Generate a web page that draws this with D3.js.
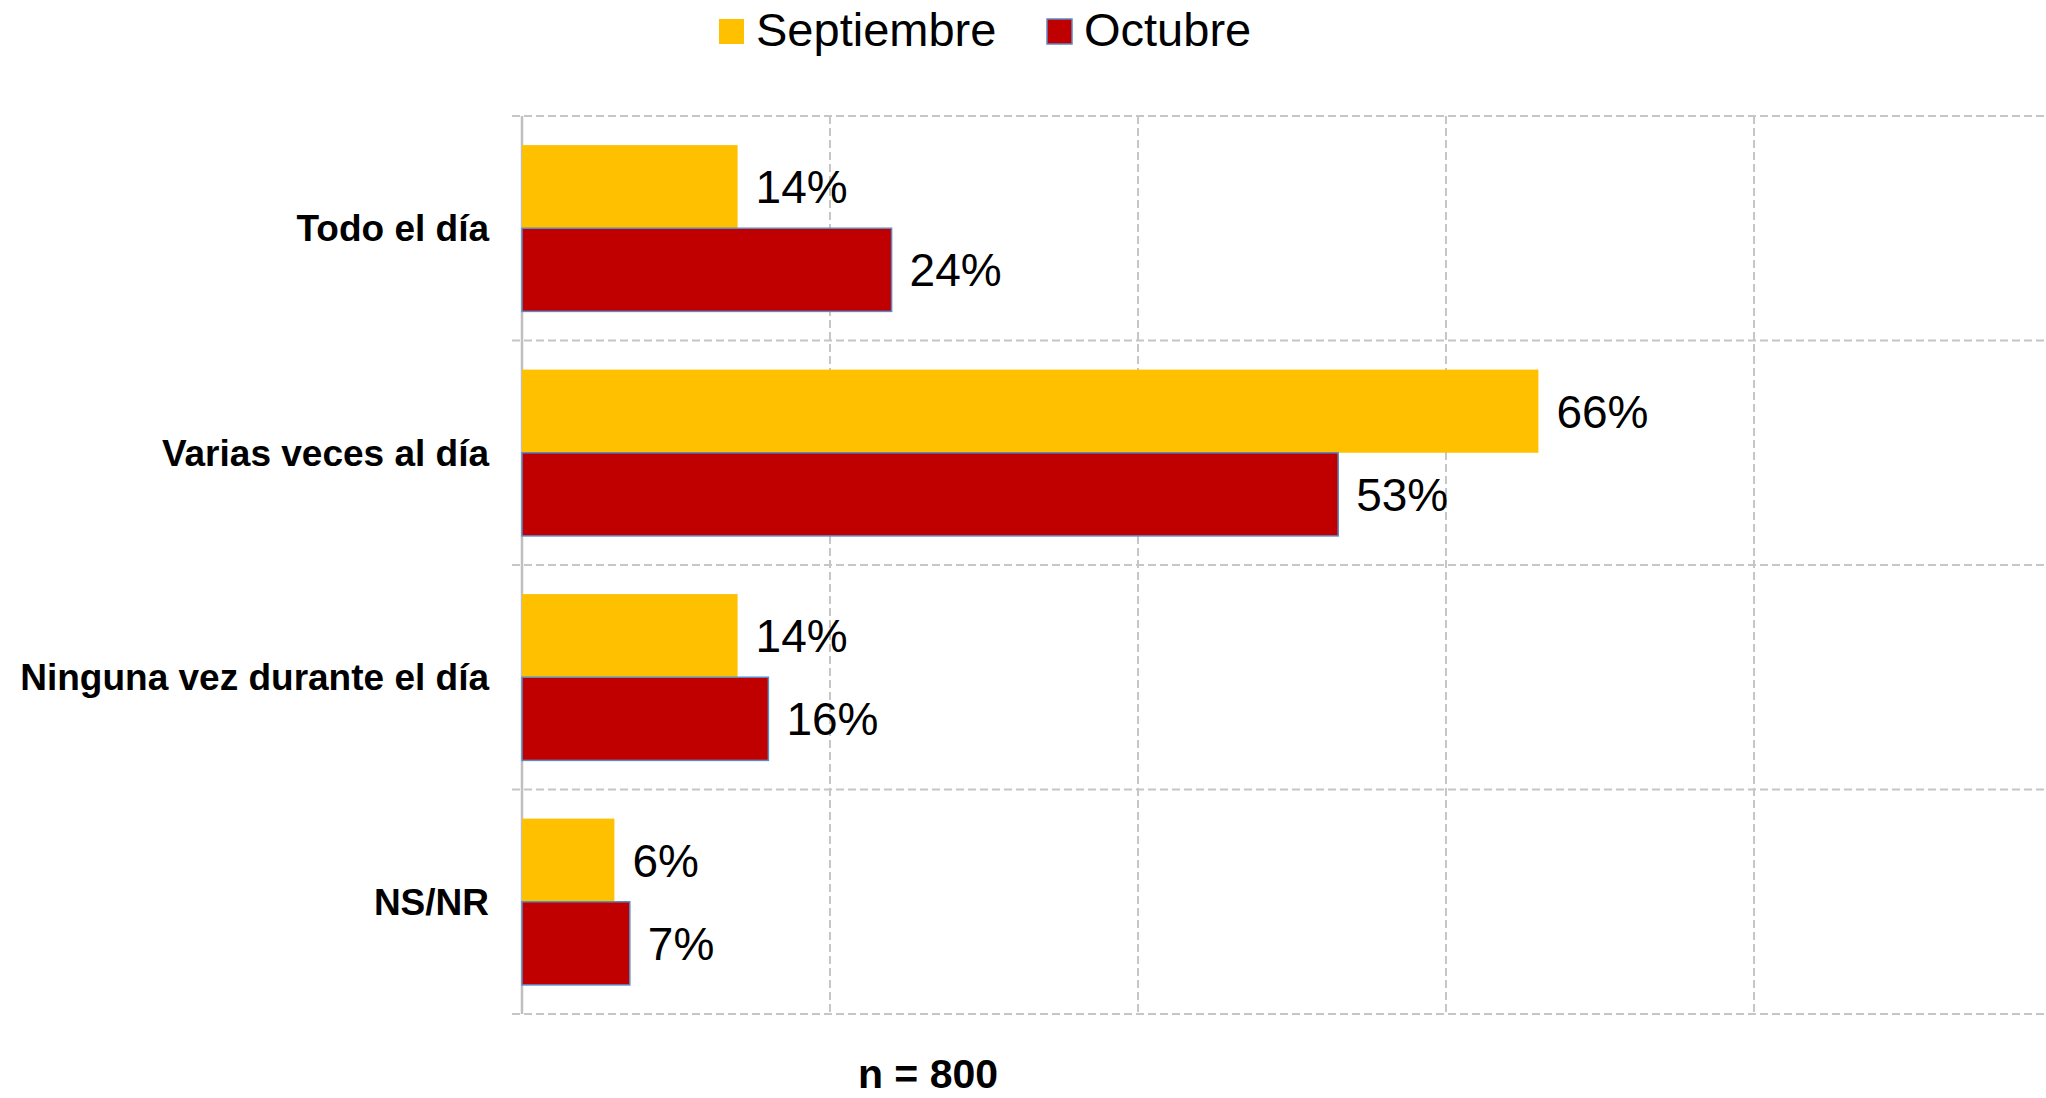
<!DOCTYPE html>
<html lang="es">
<head>
<meta charset="utf-8">
<title>Frecuencia</title>
<script src="https://d3js.org/d3.v7.min.js"></script>
<style>
  html, body { margin: 0; padding: 0; background: #fff; }
  svg { display: block; font-family: "Liberation Sans", Arial, sans-serif; }
</style>
</head>
<body>
<div id="chart"></div>
<script>
// data
const categories = ["Todo el día", "Varias veces al día", "Ninguna vez durante el día", "NS/NR"];
const seriesNames = ["Septiembre", "Octubre"];
const septiembre = [14, 66, 14, 6];
const octubre = [24, 53, 16, 7];
const xTicks = [0, 20, 40, 60, 80, 100];
const note = "n = 800";

const W = 2046, H = 1098;
const colors = { Septiembre: "#FFC000", Octubre: "#C00000" };

const svg = d3.select("#chart").append("svg")
    .attr("width", W)
    .attr("height", H);

const x = d3.scaleLinear().domain([0, 100]).range([522, 2062]);
const y = d3.scaleBand().domain(categories).range([116, 1014]).paddingInner(0).paddingOuter(0);
const ySub = d3.scaleBand().domain(seriesNames).range([0, y.bandwidth()]).paddingInner(0).paddingOuter(0.35);

const rows = categories.map((c, i) => ({ cat: c, values: [
    { s: "Septiembre", v: septiembre[i] },
    { s: "Octubre", v: octubre[i] }
]}));

// grid: vertical dashed lines
svg.append("g").selectAll("line")
    .data(xTicks.filter(d => d > 0))
    .enter().append("line")
    .attr("x1", d => x(d)).attr("x2", d => x(d))
    .attr("y1", y.range()[0]).attr("y2", y.range()[1])
    .attr("stroke", "#c6c6c6")
    .attr("stroke-width", 2)
    .attr("stroke-dasharray", "8,4");

// grid: horizontal dashed lines at band edges
const edges = categories.map(c => y(c)).concat([y.range()[1]]);
svg.append("g").selectAll("line")
    .data(edges)
    .enter().append("line")
    .attr("x1", 512).attr("x2", W)
    .attr("y1", d => d).attr("y2", d => d)
    .attr("stroke", "#c6c6c6")
    .attr("stroke-width", 2)
    .attr("stroke-dasharray", "8,4");

// y axis line
svg.append("line")
    .attr("x1", x(0)).attr("x2", x(0))
    .attr("y1", y.range()[0]).attr("y2", y.range()[1])
    .attr("stroke", "#bfbfbf")
    .attr("stroke-width", 2.5);

// category labels
svg.append("g").selectAll("text")
    .data(categories)
    .enter().append("text")
    .attr("x", 489)
    .attr("y", d => y(d) + y.bandwidth() / 2)
    .attr("dy", "0.35em")
    .attr("text-anchor", "end")
    .attr("font-size", 37)
    .attr("font-weight", "bold")
    .attr("fill", "#000")
    .text(d => d);

// bars
const groups = svg.append("g").selectAll("g")
    .data(rows)
    .enter().append("g")
    .attr("transform", d => "translate(0," + y(d.cat) + ")");

groups.selectAll("rect")
    .data(d => d.values)
    .enter().append("rect")
    .attr("x", x(0))
    .attr("y", d => ySub(d.s))
    .attr("width", d => x(d.v) - x(0))
    .attr("height", ySub.bandwidth())
    .attr("fill", d => colors[d.s])
    .attr("stroke", d => d.s === "Octubre" ? "#5b8ac4" : "none")
    .attr("stroke-width", 1.5);

groups.selectAll("text")
    .data(d => d.values)
    .enter().append("text")
    .attr("x", d => x(d.v) + 18)
    .attr("y", d => ySub(d.s) + ySub.bandwidth() / 2)
    .attr("dy", "0.36em")
    .attr("font-size", 46)
    .attr("fill", "#000")
    .text(d => d.v + "%");

// legend
const legend = svg.append("g");
const legendX = [719, 1047];
seriesNames.forEach((s, i) => {
    legend.append("rect")
        .attr("x", legendX[i]).attr("y", 19)
        .attr("width", 25).attr("height", 25)
        .attr("fill", colors[s])
        .attr("stroke", s === "Octubre" ? "#5b8ac4" : "none")
        .attr("stroke-width", 1.5);
    legend.append("text")
        .attr("x", legendX[i] + 37)
        .attr("y", 46)
        .attr("font-size", 47)
        .attr("fill", "#000")
        .text(s);
});

// sample size note
svg.append("text")
    .attr("x", 928)
    .attr("y", 1088)
    .attr("text-anchor", "middle")
    .attr("font-size", 41)
    .attr("font-weight", "bold")
    .attr("fill", "#000")
    .text(note);
</script>
</body>
</html>
